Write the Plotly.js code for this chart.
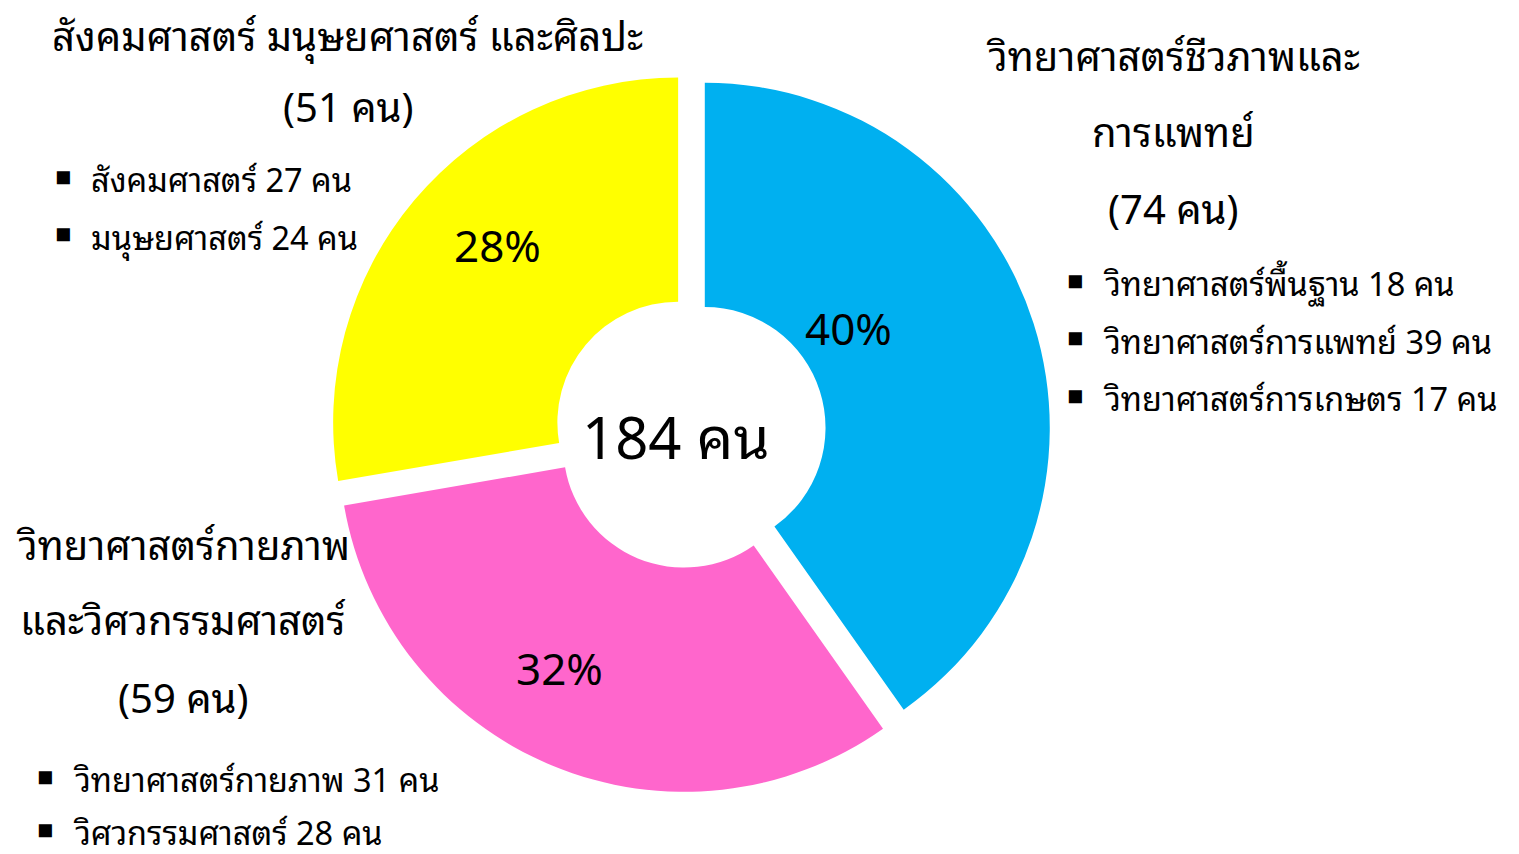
<!DOCTYPE html>
<html>
<head>
<meta charset="utf-8">
<script src="https://cdn.plot.ly/plotly-3.0.1.min.js"></script>
<style>html,body{margin:0;padding:0;background:#fff;}#chart{width:1519px;height:854px;}</style>
</head>
<body>
<div id="chart"></div>
<script>
// ---- data ----
const groups = ["วิทยาศาสตร์ชีวภาพและการแพทย์", "วิทยาศาสตร์กายภาพและวิศวกรรมศาสตร์", "สังคมศาสตร์ มนุษยศาสตร์ และศิลปะ"];
const groupValues = [74, 59, 51];
const groupColors = ["#00B0F0", "#FF66CC", "#FFFF00"];
const bioSubNames = ["วิทยาศาสตร์พื้นฐาน", "วิทยาศาสตร์การแพทย์", "วิทยาศาสตร์การเกษตร"];
const bioSubValues = [18, 39, 17];
const physSubNames = ["วิทยาศาสตร์กายภาพ", "วิศวกรรมศาสตร์"];
const physSubValues = [31, 28];
const socSubNames = ["สังคมศาสตร์", "มนุษยศาสตร์"];
const socSubValues = [27, 24];
const unit = "คน";

const W = 1519, H = 854;
const FONT = 'Tahoma, "Leelawadee UI", "Noto Sans Thai Looped", "Noto Sans Thai", "Noto Sans", sans-serif';
const total = groupValues.reduce((a, b) => a + b, 0);
const pct = groupValues.map(v => Math.round(v / total * 100) + "%");

function px(x) { return x / W; }
function py(y) { return 1 - y / H; }
function ann(text, x, y, size, xanchor) {
  return {text: text, xref: "paper", yref: "paper", x: px(x), y: py(y),
    xanchor: xanchor || "center", yanchor: "middle", showarrow: false,
    borderpad: 0,
    font: {family: FONT, size: size, color: "#000"}};
}
const annotations = [];
function bulletLine(name, v, bx, y) {
  annotations.push(ann("■", bx, y - 4, 27));
  annotations.push(ann(name + " " + v + " " + unit, bx + 27, y, 32.5, "left"));
}

// center total
annotations.push(ann(total + " " + unit, 676, 432, 58));
// percentages
annotations.push(ann(pct[0], 848, 325, 44));
annotations.push(ann(pct[1], 559, 665, 44));
annotations.push(ann(pct[2], 497, 242, 44));

// social sciences group (top-left)
annotations.push(ann(groups[2], 347, 33, 40));
annotations.push(ann("(" + groupValues[2] + " " + unit + ")", 348, 104, 40));
socSubNames.forEach((n, i) => bulletLine(n, socSubValues[i], 63, 177 + i * 58));

// bio group (right)
annotations.push(ann("วิทยาศาสตร์ชีวภาพและ", 1173, 53, 40));
annotations.push(ann("การแพทย์", 1173, 129, 40));
annotations.push(ann("(" + groupValues[0] + " " + unit + ")", 1173, 206, 40));
bioSubNames.forEach((n, i) => bulletLine(n, bioSubValues[i], 1075, 281 + i * 57.5));

// physical group (bottom-left)
annotations.push(ann("วิทยาศาสตร์กายภาพ", 183, 542, 40));
annotations.push(ann("และวิศวกรรมศาสตร์", 183, 617, 40));
annotations.push(ann("(" + groupValues[1] + " " + unit + ")", 183, 695, 40));
physSubNames.forEach((n, i) => bulletLine(n, physSubValues[i], 45, 777 + i * 53));

const trace = {
  type: "pie",
  labels: groups,
  values: groupValues,
  marker: {colors: groupColors, line: {width: 0}},
  hole: 0.35,
  pull: [0.045, 0.045, 0.045],
  sort: false,
  direction: "clockwise",
  rotation: 0,
  textinfo: "none",
  hoverinfo: "label+value+percent",
  domain: {x: [329.5 / W, 1050.5 / W], y: [1 - 793 / H, 1 - 72 / H]}
};

const layout = {
  width: W, height: H,
  margin: {l: 0, r: 0, t: 0, b: 0},
  showlegend: false,
  paper_bgcolor: "#fff",
  plot_bgcolor: "#fff",
  annotations: annotations
};

Plotly.newPlot("chart", [trace], layout, {displayModeBar: false, staticPlot: true});
</script>
</body>
</html>
